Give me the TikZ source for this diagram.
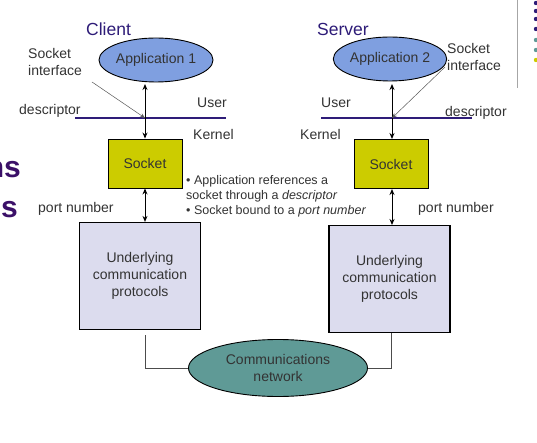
\documentclass[tikz,border=0pt]{standalone}
\usepackage{fontspec}
\setmainfont{Liberation Sans}
\usetikzlibrary{arrows.meta,shapes.geometric}
\definecolor{ttl}{HTML}{2E1C78}
\definecolor{appblue}{HTML}{7F9FE0}
\definecolor{sockyel}{HTML}{CCCC00}
\definecolor{protlav}{HTML}{DCDCEE}
\definecolor{netteal}{HTML}{5F9A96}
\definecolor{lineblue}{HTML}{2E1C78}
\definecolor{bigpurple}{HTML}{3B1068}
\definecolor{txt}{HTML}{333333}
\tikzset{
  app/.style={ellipse, draw=black, line width=0.9pt, fill=appblue, minimum width=#1, minimum height=44pt, inner sep=0pt, font=\fontsize{14}{16}\selectfont, text=txt},
  sockbox/.style={draw=black, line width=0.9pt, fill=sockyel, minimum width=74pt, minimum height=49pt, inner sep=0pt, font=\fontsize{14}{16}\selectfont, text=txt},
  protbox/.style={draw=black, line width=1.2pt, fill=protlav, minimum width=121pt, minimum height=107pt, inner sep=0pt, align=center, font=\fontsize{14}{17}\selectfont, text=txt},
  lbl/.style={font=\fontsize{14}{16}\selectfont, text=txt, inner sep=0pt},
  ttlab/.style={font=\fontsize{17.5}{20}\selectfont, text=ttl, inner sep=0pt},
  dbl/.style={{Stealth[length=6pt,width=5pt]}-{Stealth[length=6pt,width=5pt]}, line width=1pt, black},
  ptr/.style={-{Stealth[length=5pt,width=4pt]}, line width=0.5pt, gray!70!black},
  link/.style={line width=0.6pt, gray!60!black},
  kline/.style={line width=2.6pt, lineblue},
}
\begin{document}
\begin{tikzpicture}[x=1pt,y=-1pt]
\useasboundingbox (0,0) rectangle (537,443);
\fill[white] (0,0) rectangle (537,443);
\begin{scope}
\clip (0,0) rectangle (537,443);
% left partial slide title
\node[anchor=base east, font=\bfseries\fontsize{30}{32}\selectfont, text=bigpurple, inner sep=0pt] (ns) at (21,178) {ns};
\node[anchor=base east, font=\bfseries\fontsize{30}{32}\selectfont, text=bigpurple, inner sep=0pt] (s) at (18,218) {s};
% top right
\draw[gray!70, line width=0.8pt] (517,0) -- (517,88);
\foreach \yy/\cc in {3/ttl,11/ttl,19/ttl,29/ttl,40/netteal,50/netteal,60/sockyel}
  \fill[\cc] (536,\yy) circle (2.2pt);
\end{scope}

% Client side
\node[ttlab, anchor=base west] (client) at (86,36) {Client};
\node[app=114pt] (app1) at (156,60) {Application 1};
\node[sockbox] (sock1) at (145,163.5) {Socket};
\node[protbox] (prot1) at (140,276) {Underlying\\communication\\protocols};
\coordinate (l1a) at (75,118);
\coordinate (l1b) at (226,118);
\draw[kline] (l1a) -- (l1b);
\coordinate (x1) at (145,118);
\draw[dbl] (145,84) coordinate (a1top) -- (sock1.north);
\draw[dbl] (sock1.south) -- (sock1.south |- prot1.north);
\node[lbl, anchor=base west] (desc1) at (19,115) {descriptor};
\node[lbl, anchor=base west] (user1) at (197,108) {User};
\node[lbl, anchor=base west] (kern1) at (193,140) {Kernel};
\node[lbl, anchor=north west, align=left, font=\fontsize{14}{17}\selectfont] (si1) at (28,48) {Socket\\interface};
\coordinate (si1pt) at (92,82);
\draw[ptr] (si1pt) -- (x1);
\node[lbl, anchor=base west] (port1) at (38,213) {port number};

% Server side
\node[ttlab, anchor=base west] (server) at (317,36) {Server};
\node[app=104pt] (app2) at (390,59) {Application 2};
\node[sockbox] (sock2) at (391,164) {Socket};
\node[protbox] (prot2) at (389.5,279) {Underlying\\communication\\protocols};
\coordinate (l2a) at (321,118);
\coordinate (l2b) at (472,118);
\draw[kline] (l2a) -- (l2b);
\coordinate (x2) at (392,118);
\draw[dbl] (392,84) -- (392,139);
\draw[dbl] (392,189) -- (392,225);
\node[lbl, anchor=base west] (desc2) at (445,117) {descriptor};
\node[lbl, anchor=base west] (user2) at (321,108) {User};
\node[lbl, anchor=base west] (kern2) at (300,140) {Kernel};
\node[lbl, anchor=north west, align=left, font=\fontsize{14}{17}\selectfont] (si2) at (447,43) {Socket\\interface};
\coordinate (si2pt) at (445,67);
\draw[ptr] (si2pt) -- (x2);
\node[lbl, anchor=base west] (port2) at (418,213) {port number};

% bullets
\node[anchor=north west, align=left, inner sep=0pt, text=txt, font=\fontsize{12.5}{15}\selectfont] (bul) at (186,175)
 {\textbullet\ Application references a\\socket through a \textit{descriptor}\\\textbullet\ Socket bound to a \textit{port number}};

% network
\node[ellipse, draw=black, line width=0.9pt, fill=netteal, minimum width=179pt, minimum height=57pt, inner sep=0pt, align=center, text=txt, font=\fontsize{14}{17}\selectfont] (net) at (278,368) {Communications\\network};
\draw[link] (145,335) |- (net.west);
\draw[link] (391,333) |- (net.east);
\end{tikzpicture}
\end{document}
